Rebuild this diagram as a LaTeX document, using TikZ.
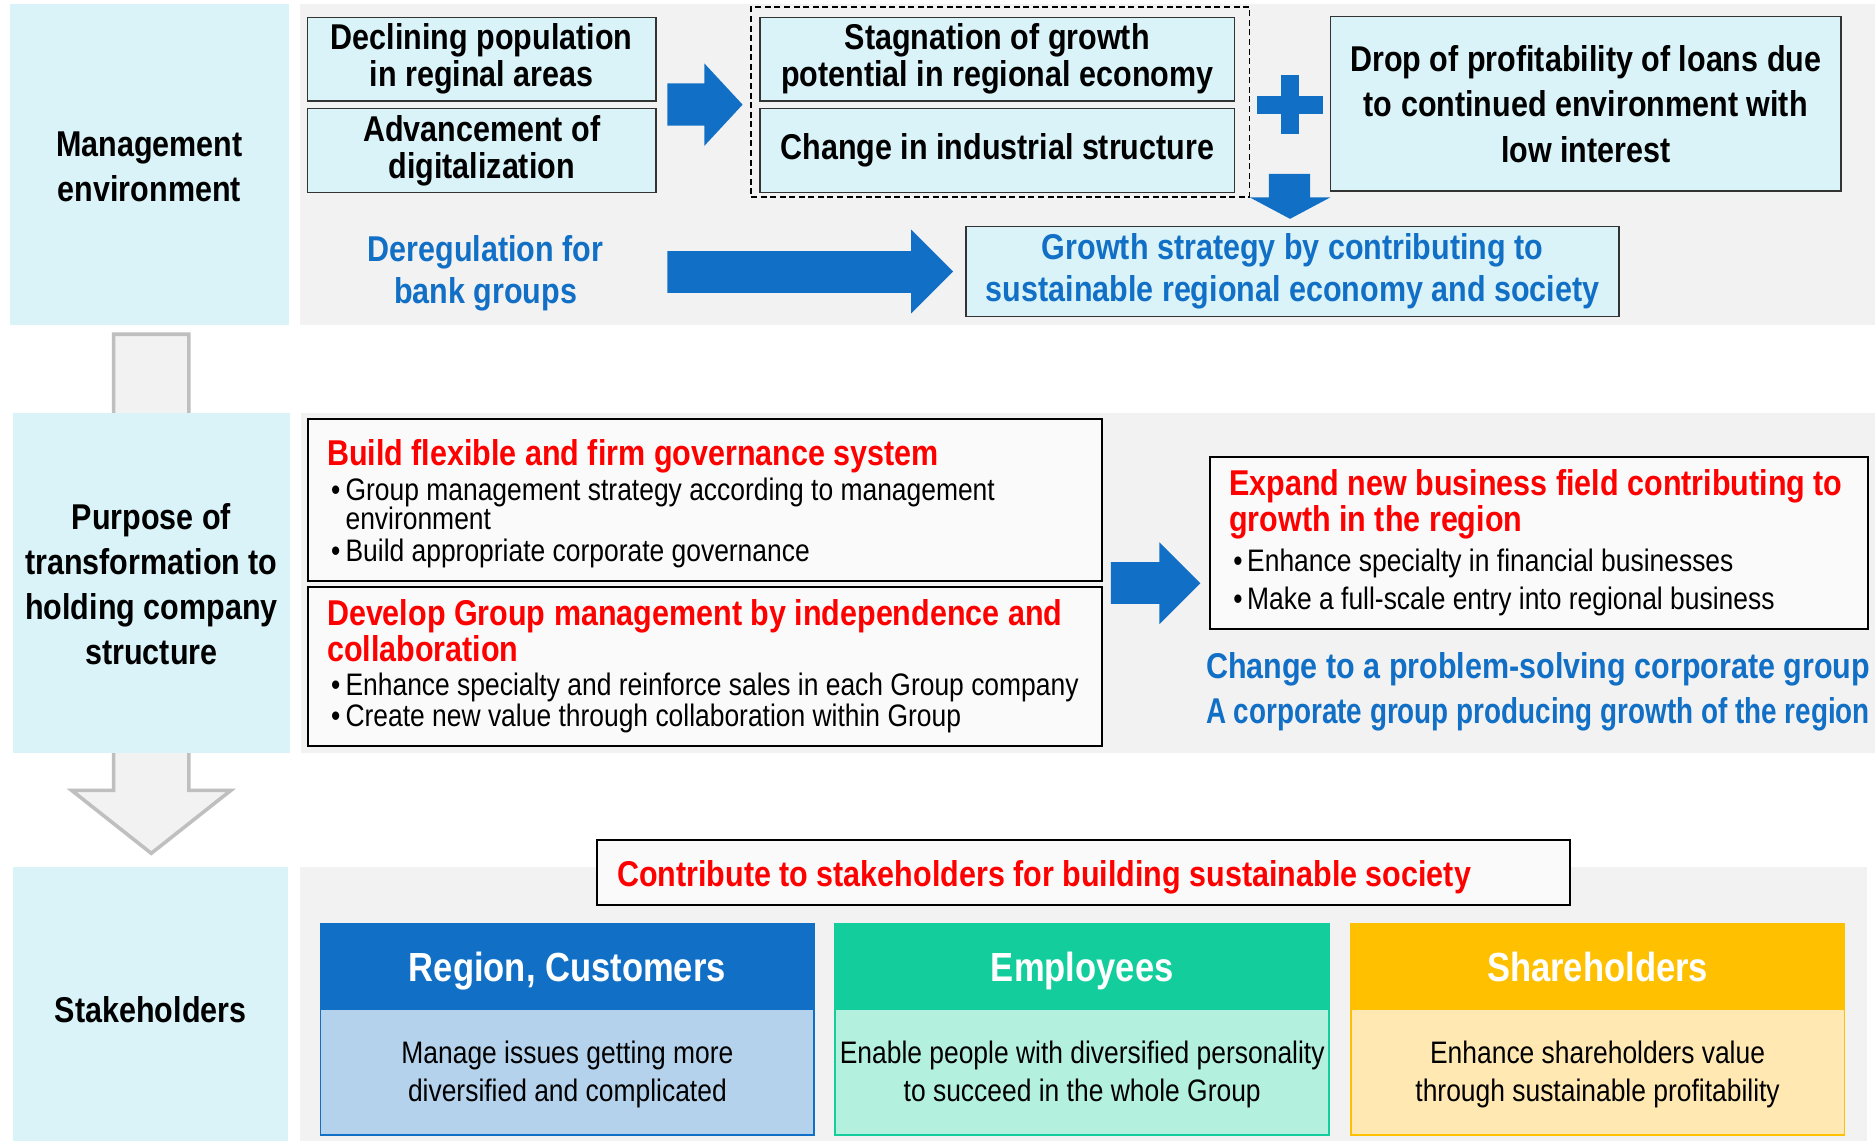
\documentclass[tikz,border=0pt]{standalone}
\usepackage{graphicx}
\usepackage{fontspec}
\setmainfont{Liberation Sans}[FakeStretch=0.85]
\definecolor{cyanL}{HTML}{DAF3F8}
\definecolor{grayP}{HTML}{F2F2F2}
\definecolor{myblue}{HTML}{1170C6}
\definecolor{myred}{HTML}{FF0000}
\definecolor{regB}{HTML}{B4D2EC}
\definecolor{empH}{HTML}{13CE9C}
\definecolor{empB}{HTML}{B4F0DE}
\definecolor{shaH}{HTML}{FFC000}
\definecolor{shaB}{HTML}{FFE8B2}
\definecolor{arrGray}{HTML}{BFBFBF}
\begin{document}
\begin{tikzpicture}[x=1pt,y=-1pt,
  every node/.style={inner sep=0pt, outer sep=0pt},
  cbox/.style={draw=black!80, line width=1.2pt, fill=cyanL, align=center, font=\bfseries\fontsize{30}{31}\selectfont},
  wbox/.style={draw=black, line width=1.8pt, fill=black!2},
  panel/.style={fill=cyanL},
  lab/.style={align=center, font=\bfseries\fontsize{30}{37.5}\selectfont},
  hd/.style={anchor=base west, text=myred, font=\bfseries\fontsize{30}{31}\selectfont},
  bl/.style={anchor=base west, font=\fontsize{26}{28}\selectfont},
  bt/.style={anchor=base west, text=myblue, font=\bfseries\fontsize{30}{31}\selectfont},
  sbox/.style={line width=1.5pt, minimum width=413pt, minimum height=176pt},
  shead/.style={minimum width=413pt, minimum height=71.6pt, text height=25pt, text depth=1pt, anchor=north, text=white, font=\bfseries\fontsize{34}{36}\selectfont},
  sbody/.style={align=center, font=\fontsize{26}{32}\selectfont},
]
\useasboundingbox (0,0) rectangle (1568,954);
\fill[white] (0,0) rectangle (1568,954);

% big gray down arrow
\draw[arrGray, fill=grayP, line width=3pt, line join=miter] (95,279.5) -- (158,279.5) -- (158,661) -- (193,661) -- (126.5,713.6) -- (60,661) -- (95,661) -- cycle;

% gray panels
\fill[grayP] (251,3.3) rectangle (1568,272);
\fill[grayP] (251.6,345.6) rectangle (1568,629.5);
\fill[grayP] (251,724.8) rectangle (1561,954);

% ---- Row 1
\node[panel, minimum width=233pt, minimum height=268.7pt] (mgmtP) at (125,137.6) {};
\node[lab] (mgmt) at (125,139.5) {Management\\environment};
\node[cbox, minimum width=291.6pt, minimum height=70.2pt] (decl) at (402.8,49.5) {Declining population\\in reginal areas};
\node[cbox, minimum width=291.6pt, minimum height=70.4pt] (adv) at (402.8,125.8) {Advancement of\\digitalization};
\node[draw, dash pattern=on 5pt off 3pt, line width=1.2pt, minimum width=417pt, minimum height=158.6pt] (grp) at (836.5,85.3) {};
\node[cbox, minimum width=397pt, minimum height=70.2pt] (stag) at (834,49.5) {Stagnation of growth\\potential in regional economy};
\node[cbox, minimum width=397pt, minimum height=70.4pt] (chg) at (834,125.8) {Change in industrial structure};
\node[cbox, minimum width=427pt, minimum height=145.7pt, font=\bfseries\fontsize{30}{38}\selectfont] (drop) at (1326.1,86.85) {Drop of profitability of loans due\\to continued environment with\\low interest};
\node[cbox, text=myblue, minimum width=546pt, minimum height=75.2pt, font=\bfseries\fontsize{30}{35}\selectfont] (grow) at (1081,227.2) {Growth strategy by contributing to\\sustainable regional economy and society};
\node[align=center, text=myblue, font=\bfseries\fontsize{30}{35}\selectfont] (dereg) at (406,228.5) {Deregulation for\\bank groups};

\fill[myblue] (558,69.7) -- (589,69.7) -- (589,53) -- (621,87.5) -- (589,122) -- (589,105) -- (558,105) -- cycle;
\fill[myblue] (558,210) -- (762,210) -- (762,192) -- (797,227) -- (762,262) -- (762,245) -- (558,245) -- cycle;
\fill[myblue] (1061,145.5) -- (1095.5,145.5) -- (1095.5,165) -- (1112.6,165) -- (1078.8,183) -- (1045,165) -- (1061,165) -- cycle;
\fill[myblue] (1071,63) rectangle (1086.5,112);
\fill[myblue] (1051,80) rectangle (1106,95.6);

% ---- Row 2
\node[panel, minimum width=232pt, minimum height=284pt] (purpP) at (126.6,487.5) {};
\node[lab] (purp) at (126.6,488.5) {Purpose of\\transformation to\\holding company\\structure};
\node[wbox, minimum width=664pt, minimum height=135.2pt] (build) at (589.6,418) {};
\node[hd] (buildH) at (273.5,389.5) {Build flexible and firm governance system};
\node[bl] (b1) at (277,418.2) {\makebox[12pt][l]{•}Group management strategy according to management};
\node[bl] (b2) at (289,443.2) {environment};
\node[bl] (b3) at (277,469.7) {\makebox[12pt][l]{•}Build appropriate corporate governance};
\node[wbox, minimum width=664pt, minimum height=133pt] (dev) at (589.6,557.1) {};
\node[hd] (devH1) at (273.5,522.7) {Develop Group management by independence and};
\node[hd] (devH2) at (273.5,553.3) {collaboration};
\node[bl] (d1) at (277,581.2) {\makebox[12pt][l]{•}Enhance specialty and reinforce sales in each Group company};
\node[bl] (d2) at (277,607.7) {\makebox[12pt][l]{•}Create new value through collaboration within Group};

\fill[myblue] (929,470) -- (969.5,470) -- (969.5,453.5) -- (1003.8,487.75) -- (969.5,522) -- (969.5,505) -- (929,505) -- cycle;

\node[wbox, minimum width=550.3pt, minimum height=143.9pt] (exp) at (1286.75,454.35) {};
\node[hd] (expH1) at (1028,414) {Expand new business field contributing to};
\node[hd] (expH2) at (1028,444.6) {growth in the region};
\node[bl] (e1) at (1031.5,478) {\makebox[11.5pt][l]{•}Enhance specialty in financial businesses};
\node[bl] (e2) at (1031.5,510.1) {\makebox[11.5pt][l]{•}Make a full-scale entry into regional business};
\node[bt] (ch1) at (1008.6,567.2) {Change to a problem-solving corporate group};
\node[bt] (ch2) at (1008.6,604.9) {\resizebox{555pt}{\height}{A corporate group producing growth of the region}};

% ---- Row 3
\node[panel, minimum width=230pt, minimum height=229.2pt] (stkP) at (126,839.4) {};
\node[lab] (stk) at (126,844) {Stakeholders};
\node[wbox, line width=1.5pt, minimum width=814pt, minimum height=54.3pt] (contr) at (906,729.65) {};
\node[hd] (contrT) at (516,741.5) {Contribute to stakeholders for building sustainable society};

\node[sbox, fill=regB] (reg) at (474.5,861) {};
\node[shead, fill=myblue] (regH) at (reg.north) {Region, Customers};
\draw[myblue, line width=1.5pt] (reg.north west) rectangle (reg.south east);
\node[sbody] (regT) at (474.5,898.6) {Manage issues getting more\\diversified and complicated};

\node[sbox, fill=empB] (emp) at (905,861) {};
\node[shead, fill=empH] (empHd) at (emp.north) {Employees};
\draw[empH, line width=1.5pt] (emp.north west) rectangle (emp.south east);
\node[sbody] (empT) at (905,898.6) {Enable people with diversified personality\\to succeed in the whole Group};

\node[sbox, fill=shaB] (sha) at (1336,861) {};
\node[shead, fill=shaH] (shaHd) at (sha.north) {Shareholders};
\draw[shaH, line width=1.5pt] (sha.north west) rectangle (sha.south east);
\node[sbody] (shaT) at (1336,898.6) {Enhance shareholders value\\through sustainable profitability};
\end{tikzpicture}
\end{document}
